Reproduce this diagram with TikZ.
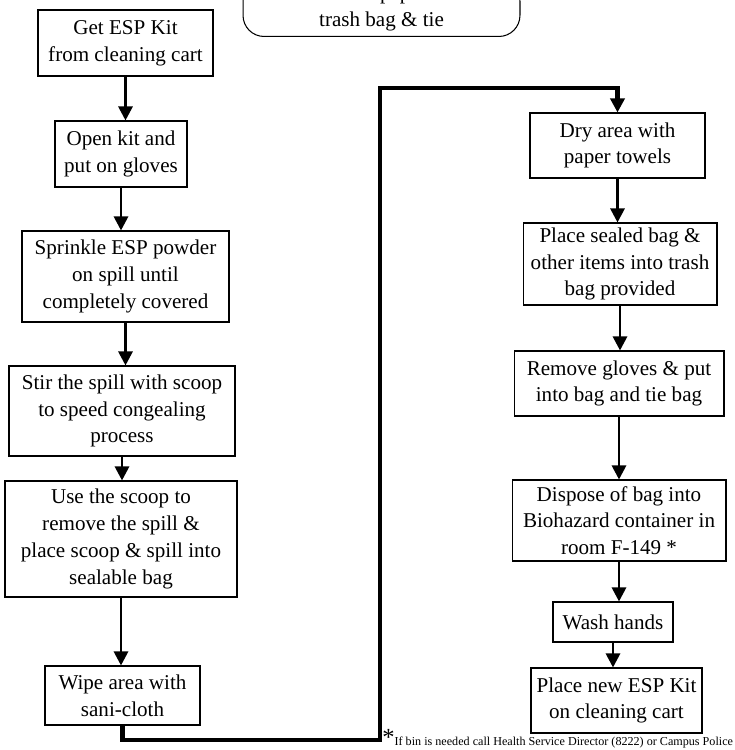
\documentclass[tikz,border=0pt]{standalone}
\usepackage{fontspec}
\setmainfont{Liberation Serif}
\usetikzlibrary{arrows.meta, positioning}

\tikzset{
  stepbox/.style={draw, line width=0.6pt, align=center, inner sep=1pt, font=\fontsize{12}{15.2}\selectfont},
  flow/.style={line width=1.6pt, -{Triangle[width=8pt,length=8pt]}},
  jump/.style={line width=2.3pt, -{Triangle[width=8pt,length=8pt]}},
}

\begin{document}
\begin{tikzpicture}[x=0.02cm, y=-0.02cm]
\useasboundingbox (0,0) rectangle (734,750);
\clip (0,0) rectangle (734,750);

% kit contents (cut at top)
\node[stepbox, rounded corners=12, anchor=south, minimum width=5.54cm, inner ysep=3pt] (kit) at (381.5,37)
  {sani-cloth -- paper towels\\trash bag \& tie};

% left column
\node[stepbox, minimum width=3.5cm, minimum height=1.32cm] (getkit) at (125.5,43) {Get ESP Kit\\from cleaning cart};
\node[stepbox, minimum width=2.64cm, minimum height=1.32cm] (openkit) at (121,154) {Open kit and\\put on gloves};
\node[stepbox, minimum width=4.14cm, minimum height=1.82cm] (sprinkle) at (125.5,276.5) {Sprinkle ESP powder\\on spill until\\completely covered};
\node[stepbox, minimum width=4.52cm, minimum height=1.8cm] (stir) at (122,411) {Stir the spill with scoop\\to speed congealing\\process};
\node[stepbox, minimum width=4.64cm, minimum height=2.32cm] (scoop) at (121,539) {Use the scoop to\\remove the spill \&\\place scoop \& spill into\\sealable bag};
\node[stepbox, minimum width=3.1cm, minimum height=1.18cm] (wipe) at (122.5,695.5) {Wipe area with\\sani-cloth};

% right column
\node[stepbox, minimum width=3.5cm, minimum height=1.3cm] (dry) at (617.5,145.5) {Dry area with\\paper towels};
\node[stepbox, minimum width=3.88cm, minimum height=1.64cm] (trash) at (620,264) {Place sealed bag \&\\other items into trash\\bag provided};
\node[stepbox, minimum width=4.2cm, minimum height=1.3cm] (gloves) at (619,383.5) {Remove gloves \& put\\into bag and tie bag};
\node[stepbox, minimum width=4.28cm, minimum height=1.62cm] (dispose) at (619,520.5) {Dispose of bag into\\Biohazard container in\\room F-149 *};
\node[stepbox, minimum width=2.4cm, minimum height=0.8cm] (wash) at (613,622) {Wash hands};
\node[stepbox, minimum width=3.42cm, minimum height=1.3cm] (newkit) at (616.5,700.5) {Place new ESP Kit\\on cleaning cart};

% arrows
\draw[flow] (getkit.south) -- (getkit.south |- openkit.north);
\draw[flow] (openkit.south) -- (openkit.south |- sprinkle.north);
\draw[flow] (sprinkle.south) -- (sprinkle.south |- stir.north);
\draw[flow] (stir.south) -- (stir.south |- scoop.north);
\draw[flow] (scoop.south) -- (scoop.south |- wipe.north);

\coordinate (low) at (380,740);
\coordinate (high) at (380,88);
\draw[jump] (wipe.south) |- (low) -- (high) -| (dry.north);

\draw[flow] (dry.south) -- (dry.south |- trash.north);
\draw[flow] (trash.south) -- (trash.south |- gloves.north);
\draw[flow] (gloves.south) -- (gloves.south |- dispose.north);
\draw[flow] (dispose.south) -- (dispose.south |- wash.north);
\draw[flow] (wash.south) -- (wash.south |- newkit.north);

% footnote
\node[anchor=base west, inner sep=0pt] (note) at (382,745.5)
  {\fontsize{14}{14}\selectfont *\fontsize{6.9}{7}\selectfont If bin is needed call Health Service Director (8222) or Campus Police (8222)};
\end{tikzpicture}
\end{document}
